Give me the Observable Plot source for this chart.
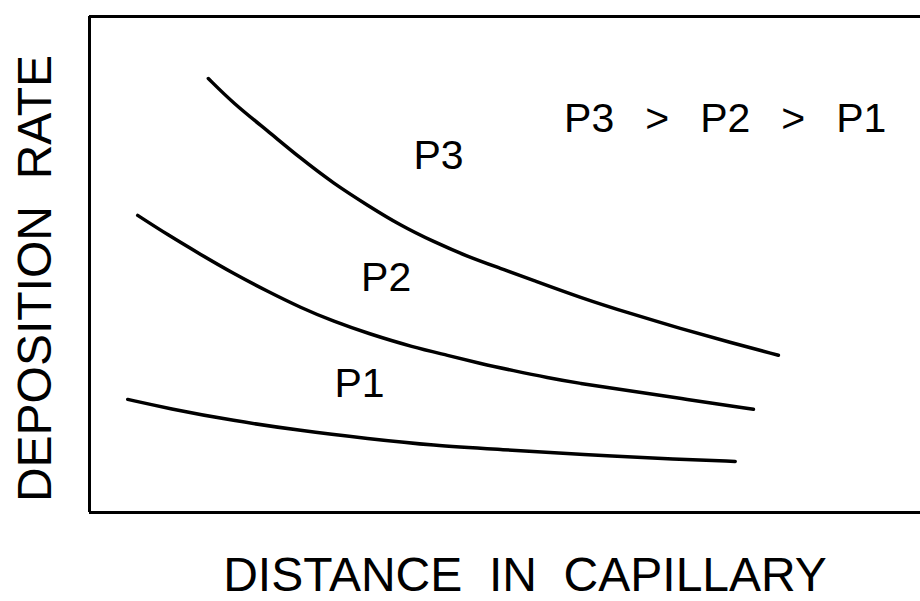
<!DOCTYPE html>
<html>
<head>
<meta charset="utf-8">
<script src="https://cdn.jsdelivr.net/npm/d3@7"></script>
<script src="https://cdn.jsdelivr.net/npm/@observablehq/plot@0.6"></script>
<style>
  html, body { margin: 0; padding: 0; background: #fff; overflow: hidden; }
  #chart svg { display: block; }
</style>
</head>
<body>
<div id="chart"></div>
<script>
// Series values (distance in capillary, deposition rate), arbitrary units 0–100
const p3Distance = [14.3, 17.3, 21.4, 25.4, 29.4, 33.5, 37.4, 41.4, 45.5, 49.5, 53.1, 59.1, 65.1, 71.1, 77.1, 82.9];
const p3Rate     = [87.5, 82.5, 77.0, 71.4, 66.3, 61.9, 57.9, 54.6, 51.6, 49.2, 47.0, 43.3, 40.1, 37.1, 34.3, 31.7];

const p2Distance = [5.8, 9.4, 13.4, 17.3, 21.4, 25.4, 29.4, 33.5, 39.0, 43.1, 47.1, 51.0, 55.1, 59.1, 63.1, 71.1, 79.9];
const p2Rate     = [59.9, 56.0, 52.0, 48.2, 44.6, 41.3, 38.5, 36.1, 33.3, 31.7, 30.0, 28.6, 27.2, 26.0, 25.0, 23.0, 20.8];

const p1Distance = [4.6, 9.4, 17.3, 25.4, 33.5, 41.4, 49.5, 59.1, 71.1, 77.7];
const p1Rate     = [22.8, 21.0, 18.5, 16.5, 14.9, 13.5, 12.7, 11.7, 10.7, 10.3];

// Curve labels
const labelText     = ["P3", "P2", "P1"];
const labelDistance = [42.0, 35.7, 32.5];
const labelRate     = [72.0, 47.4, 26.0];

const noteText = "P3\u00a0\u00a0\u2009>\u00a0\u00a0\u2009P2\u00a0\u00a0\u2009>\u00a0\u00a0\u2009P1";
const noteDistance = 76.5;
const noteRate = 79.4;

const xTitle = "DISTANCE\u00a0\u00a0IN\u00a0\u00a0CAPILLARY";
const yTitle = "DEPOSITION\u00a0\u00a0RATE";

const series = [
  {name: "P3", xs: p3Distance, ys: p3Rate},
  {name: "P2", xs: p2Distance, ys: p2Rate},
  {name: "P1", xs: p1Distance, ys: p1Rate}
];
const rows = series.flatMap(s => s.xs.map((x, i) => ({series: s.name, distance: x, rate: s.ys[i]})));
const labels = labelText.map((t, i) => ({text: t, distance: labelDistance[i], rate: labelRate[i]}));

const font = "'Liberation Sans', Arial, sans-serif";

const chart = Plot.plot({
  width: 920,
  height: 601,
  marginLeft: 89,
  marginRight: 0,
  marginTop: 16,
  marginBottom: 89,
  style: {fontFamily: font, background: "#fff", color: "#000"},
  x: {domain: [0, 100], axis: null},
  y: {domain: [0, 100], axis: null},
  marks: [
    Plot.ruleY([100], {stroke: "#000", strokeWidth: 3}),
    Plot.ruleY([0], {stroke: "#000", strokeWidth: 3}),
    Plot.ruleX([0], {stroke: "#000", strokeWidth: 3}),
    Plot.line(rows, {x: "distance", y: "rate", z: "series", curve: "basis",
      stroke: "#000", strokeWidth: 3.5, strokeLinecap: "round", strokeLinejoin: "round"}),
    Plot.text(labels, {x: "distance", y: "rate", text: "text", fontSize: 41, fill: "#000"}),
    Plot.text([noteText], {x: () => noteDistance, y: () => noteRate, text: d => d, fontSize: 41, fill: "#000"}),
    Plot.text([xTitle], {frameAnchor: "bottom", text: d => d, fontSize: 48, dx: 20, dy: 78,
      textAnchor: "middle", lineAnchor: "bottom", fill: "#000"}),
    Plot.text([yTitle], {frameAnchor: "left", text: d => d, fontSize: 48, rotate: -90, dx: -54, dy: 14,
      textAnchor: "middle", lineAnchor: "middle", fill: "#000"})
  ]
});
document.getElementById("chart").appendChild(chart);
</script>
</body>
</html>
